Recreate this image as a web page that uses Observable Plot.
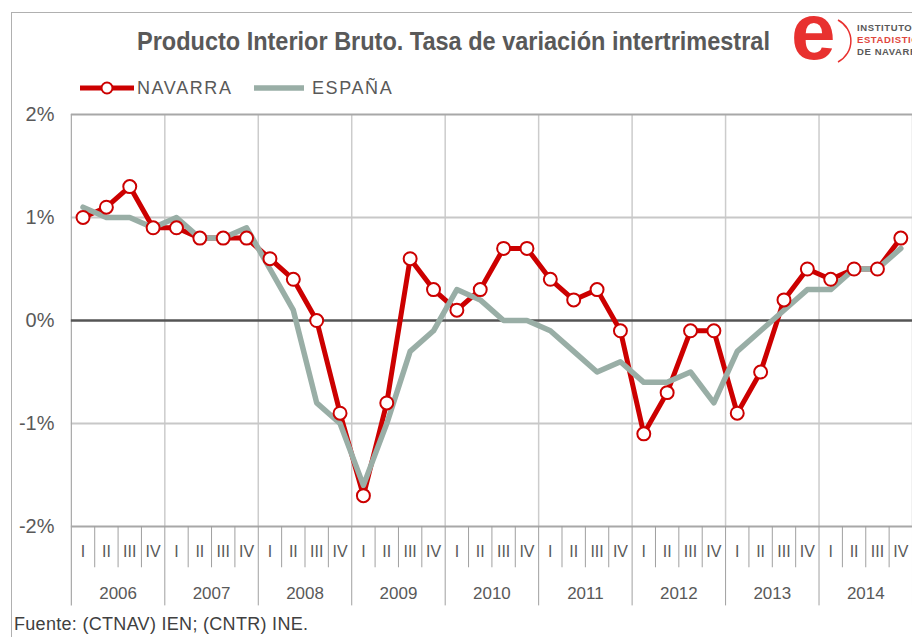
<!DOCTYPE html>
<html>
<head>
<meta charset="utf-8">
<script src="https://cdn.jsdelivr.net/npm/d3@7"></script>
<script src="https://cdn.jsdelivr.net/npm/@observablehq/plot@0.6"></script>
<style>
  html, body { margin: 0; padding: 0; background: #fff; }
  body { width: 912px; height: 637px; overflow: hidden; position: relative; font-family: "Liberation Sans", Arial, sans-serif; color: #595959; }
  #frame { position: absolute; left: 11px; top: 12px; width: 950px; height: 700px; border: 1px solid #b0b0b0; box-sizing: border-box; }
  #title { position: absolute; left: 137px; top: 27px; font-family: "Liberation Sans", Arial, sans-serif; font-weight: bold; font-size: 25px; color: #595959; white-space: nowrap; transform: scaleX(0.94); transform-origin: 0 0; }
  #logo { position: absolute; left: 790px; top: 14px; }
  #legend { position: absolute; left: 80px; top: 77px; height: 22px; }
  .leg { position: absolute; top: 0; font-family: "Liberation Sans", Arial, sans-serif; font-size: 18px; letter-spacing: 1.6px; color: #595959; white-space: nowrap; line-height: 22px; }
  #chart { position: absolute; left: 0; top: 100px; }
  #footer { position: absolute; left: 14px; top: 614px; font-size: 18px; color: #404040; white-space: nowrap; letter-spacing: 0.3px; }
</style>
</head>
<body>
<div id="frame"></div>
<div id="title">Producto Interior Bruto. Tasa de variación intertrimestral</div>
<div id="logo">
  <svg width="122" height="56">
    <path d="M48 6 A25 24 0 0 1 48 48" fill="none" stroke="#e8312f" stroke-width="1.5"/>
    <text x="1" y="45" font-family="Liberation Sans, sans-serif" font-weight="bold" font-size="80" fill="#e8312f">e</text>
    <text x="67" y="17" font-family="Liberation Sans, sans-serif" font-weight="bold" font-size="9.5" fill="#595959" letter-spacing="0.6">INSTITUTO DE</text>
    <text x="67" y="29" font-family="Liberation Sans, sans-serif" font-weight="bold" font-size="9.5" fill="#e0463c" letter-spacing="0.6">ESTADISTICA</text>
    <text x="67" y="41" font-family="Liberation Sans, sans-serif" font-weight="bold" font-size="9.5" fill="#595959" letter-spacing="0.6">DE NAVARRA</text>
  </svg>
</div>
<div id="legend">
  <svg width="60" height="22" style="position:absolute;left:0;top:0">
    <line x1="0" y1="11" x2="54" y2="11" stroke="#cc0000" stroke-width="5"/>
    <circle cx="27" cy="11" r="5.5" fill="#fff" stroke="#cc0000" stroke-width="2"/>
  </svg>
  <span class="leg" style="left:57px">NAVARRA</span>
  <svg width="60" height="22" style="position:absolute;left:174px;top:0">
    <line x1="0" y1="11" x2="50" y2="11" stroke="#99aea6" stroke-width="5.5"/>
  </svg>
  <span class="leg" style="left:232px">ESPAÑA</span>
</div>
<div id="chart"></div>
<div id="footer">Fuente: (CTNAV) IEN; (CNTR) INE.</div>
<script>
const years = ["2006","2007","2008","2009","2010","2011","2012","2013","2014"];
const quarterLabels = ["I","II","III","IV"];
const navarra = [1.0, 1.1, 1.3, 0.9,  0.9, 0.8, 0.8, 0.8,  0.6, 0.4, 0.0, -0.9,  -1.7, -0.8, 0.6, 0.3,
                 0.1, 0.3, 0.7, 0.7,  0.4, 0.2, 0.3, -0.1,  -1.1, -0.7, -0.1, -0.1,  -0.9, -0.5, 0.2, 0.5,
                 0.4, 0.5, 0.5, 0.8];
const espana  = [1.1, 1.0, 1.0, 0.9,  1.0, 0.8, 0.8, 0.9,  0.5, 0.1, -0.8, -1.0,  -1.6, -1.0, -0.3, -0.1,
                 0.3, 0.2, 0.0, 0.0,  -0.1, -0.3, -0.5, -0.4,  -0.6, -0.6, -0.5, -0.8,  -0.3, -0.1, 0.1, 0.3,
                 0.3, 0.5, 0.5, 0.7];
const yTicks = [2, 1, 0, -1, -2];

const nQ = years.length * 4;
const navData = navarra.map((v, i) => ({i: i + 0.5, v}));
const espData = espana.map((v, i) => ({i: i + 0.5, v}));
const qLab = d3.range(nQ).map(i => ({i: i + 0.5, t: quarterLabels[i % 4]}));
const yLab = years.map((y, k) => ({i: k * 4 + 2, t: y}));
const qSep = d3.range(1, nQ).filter(i => i % 4 !== 0);
const ySep = d3.range(0, nQ + 1, 4);
const yMin = -2, qDepth = -2.4, yDepth = -2.77;

const chart = Plot.plot({
  width: 914,
  height: 510,
  marginLeft: 71,
  marginRight: 0,
  marginTop: 14,
  marginBottom: 83,
  x: {type: "linear", domain: [0, nQ], axis: null},
  y: {domain: [-2, 2], axis: null},
  style: {fontFamily: "Liberation Sans, Arial, sans-serif", background: "transparent"},
  marks: [
    Plot.ruleX(ySep.slice(1), {x: d => d, y1: -2, y2: 2, stroke: "#cccccc", strokeWidth: 1.5}),
    Plot.ruleY([1, -1], {stroke: "#c8c8c8", strokeWidth: 2}),
    Plot.ruleY([2, -2], {stroke: "#a8a8a8", strokeWidth: 2}),
    Plot.ruleX([0], {y1: yDepth, y2: 2, stroke: "#a8a8a8", strokeWidth: 1.2}),
    Plot.ruleX(qSep, {x: d => d, y1: yMin, y2: qDepth, stroke: "#a0a0a0", strokeWidth: 1}),
    Plot.ruleX(ySep.slice(1), {x: d => d, y1: yMin, y2: yDepth, stroke: "#a0a0a0", strokeWidth: 1}),
    Plot.ruleY([0], {stroke: "#555555", strokeWidth: 2.5}),
    Plot.text(yTicks, {x: 0, y: d => d, text: d => d + "%", textAnchor: "end", dx: -17, fontSize: 20, fill: "#595959"}),
    Plot.text(qLab, {x: "i", y: yMin, text: "t", dy: 25, fontSize: 16, fill: "#595959"}),
    Plot.text(yLab, {x: "i", y: yMin, text: "t", dy: 67, fontSize: 17, fill: "#595959"}),
    Plot.line(navData, {x: "i", y: "v", stroke: "#cc0000", strokeWidth: 5, strokeLinejoin: "round"}),
    Plot.line(espData, {x: "i", y: "v", stroke: "#99aea6", strokeWidth: 5.5, strokeLinejoin: "round"}),
    Plot.dot(navData, {x: "i", y: "v", r: 6.5, fill: "#ffffff", stroke: "#cc0000", strokeWidth: 2})
  ]
});
document.getElementById("chart").appendChild(chart);
</script>
</body>
</html>
